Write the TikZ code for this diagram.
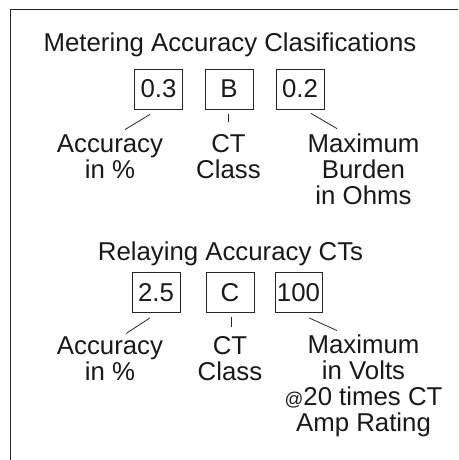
\documentclass[tikz,border=0pt]{standalone}
\usepackage{fontspec}
\setmainfont{Liberation Sans}
\begin{document}
\begin{tikzpicture}[x=1pt,y=-1pt,
  txt/.style={font=\fontsize{25.8}{26}\selectfont, inner sep=0pt, text=black!90},
  valbox/.style={draw=black!85, line width=0.8pt, minimum width=48pt, minimum height=40pt, inner sep=0pt, font=\fontsize{25.8}{26}\selectfont, text=black!90},
  lbl/.style={txt, align=center, anchor=base},
  conn/.style={draw=black!85, line width=0.8pt},
  frame/.style={draw=black!85, line width=1pt}]
\useasboundingbox (0,0) rectangle (458,460);
\draw[frame] (10,460) -- (10,10) -- (458,10);
% upper section
\node[txt, anchor=base] (t1) at (230,52) {Metering Accuracy Clasifications};
\node[valbox] (a1) at (158.5,89) {0.3};
\node[valbox] (b1) at (229,89) {B};
\node[valbox] (c1) at (300,89) {0.2};
\node[lbl] (la1) at (110,178) {Accuracy\\in \%};
\node[lbl] (lb1) at (228.5,178) {CT\\Class};
\node[lbl] (lc1) at (363.5,204) {Maximum\\Burden\\in Ohms};
\draw[conn] ([shift={(-8.5,5)}]a1.south) -- ([shift={(15,-4.5)}]la1.north);
\draw[conn] ([shift={(-1,5)}]b1.south) -- ([shift={(-0.5,-11.5)}]lb1.north);
\draw[conn] ([shift={(11,4)}]c1.south) -- ([shift={(-26.5,-4.5)}]lc1.north);
% lower section
\node[txt, anchor=base] (t2) at (230.5,260) {Relaying Accuracy CTs};
\node[valbox] (a2) at (156,292.5) {2.5};
\node[valbox] (b2) at (230,292.5) {C};
\node[valbox, minimum width=47pt] (c2) at (298.5,292.5) {100};
\node[lbl] (la2) at (110,380) {Accuracy\\in \%};
\node[lbl] (lb2) at (230,380) {CT\\Class};
\node[lbl, font=\fontsize{25.8}{25.7}\selectfont] (lc2) at (363.5,431) {Maximum\\in Volts\\{\fontsize{18.6}{25.7}\selectfont @}20 times CT\\Amp Rating};
\draw[conn] ([shift={(-6,5)}]a2.south) -- ([shift={(16,-2.5)}]la2.north);
\draw[conn] ([shift={(1,4)}]b2.south) -- ([shift={(1,-8.5)}]lb2.north);
\draw[conn] ([shift={(10.5,5)}]c2.south) -- ([shift={(-26.5,-4.5)}]lc2.north);
\end{tikzpicture}
\end{document}
